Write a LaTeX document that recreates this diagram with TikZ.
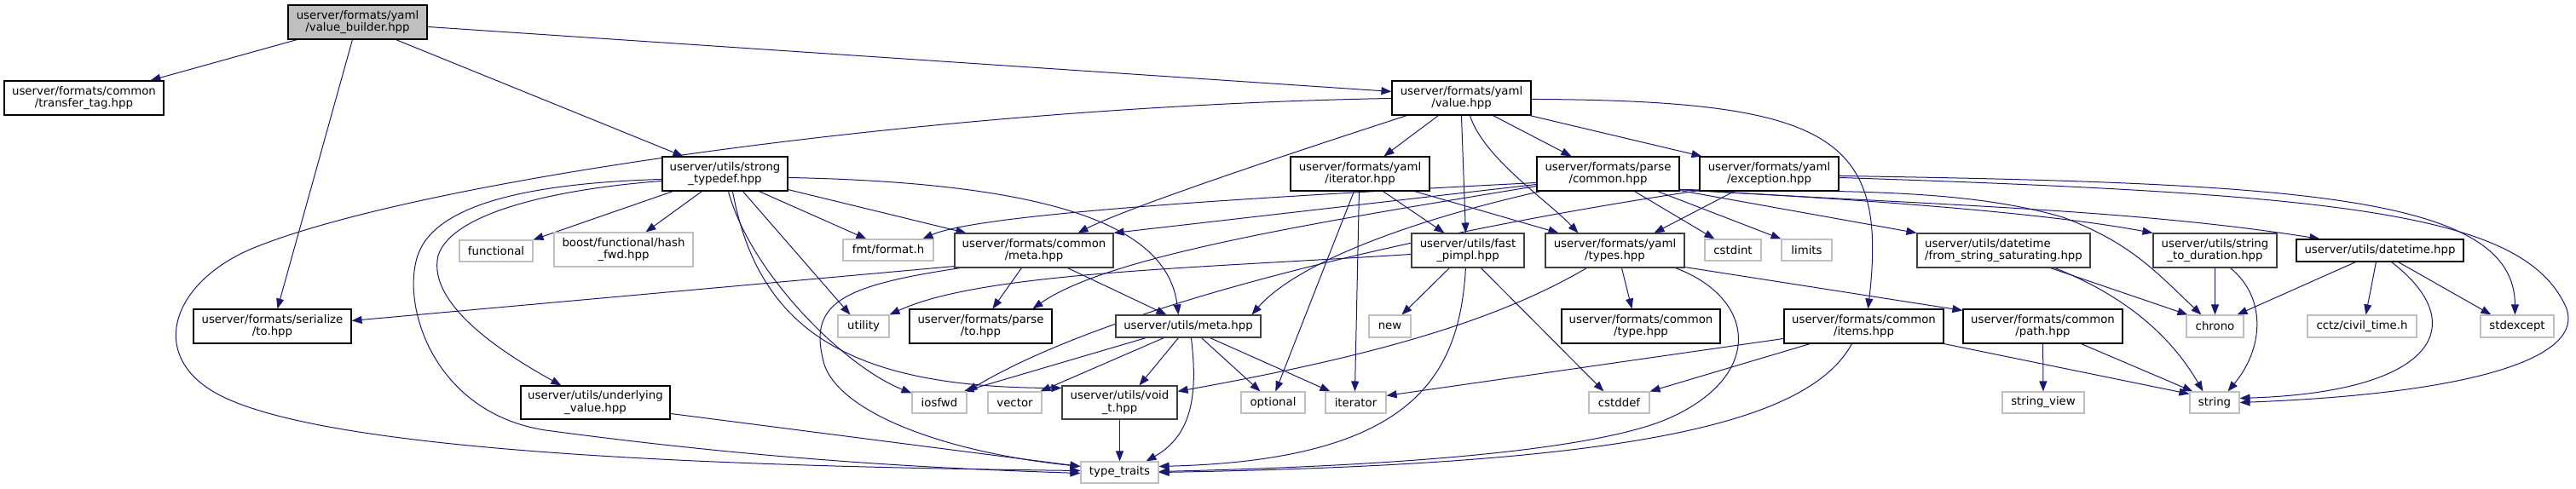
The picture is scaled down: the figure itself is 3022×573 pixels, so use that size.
\documentclass[tikz,border=0pt]{standalone}
\usepackage{fontspec}
\setmainfont{DejaVu Sans}
\usetikzlibrary{arrows.meta}
\pgfdeclarelayer{bg}
\pgfsetlayers{bg,main}
\definecolor{edgec}{HTML}{191970}
\definecolor{grayb}{HTML}{404040}
\definecolor{extb}{HTML}{BFBFBF}
\definecolor{rootf}{HTML}{BFBFBF}
\begin{document}
\begin{tikzpicture}[x=1pt,y=-1pt,
  box/.style={draw, fill=white, line width=1.1pt, inner sep=0pt, align=center, font=\fontsize{13.3}{14.5}\selectfont, text=black},
  doc/.style={box, draw=black},
  gdoc/.style={box, draw=grayb},
  ext/.style={box, draw=extb},
  root/.style={box, draw=black, fill=rootf},
  wh/.style 2 args={minimum width=#1pt, minimum height=#2pt},
  edge/.style={draw=edgec, line width=1pt, -{Triangle[length=12pt,width=9pt]}}]
\useasboundingbox (0,0) rectangle (3022,573);
% nodes
\node[root, wh={163}{40}] (vb) at (419.5,26) {userver/formats/yaml\\/value\_builder.hpp};
\node[doc, wh={187}{40}] (tt) at (98.5,115) {userver/formats/common\\/transfer\_tag.hpp};
\node[doc, wh={185}{40}] (sto) at (319.5,383) {userver/formats/serialize\\/to.hpp};
\node[doc, wh={147}{40}] (st) at (850.5,204) {userver/utils/strong\\\_typedef.hpp};
\node[doc, wh={163}{40}] (val) at (1714.5,115) {userver/formats/yaml\\/value.hpp};
\node[ext, wh={86}{25}] (func) at (582,294.5) {functional};
\node[ext, wh={163}{40}] (boost) at (731.5,293) {boost/functional/hash\\\_fwd.hpp};
\node[ext, wh={106}{25}] (fmt) at (1042,293.5) {fmt/format.h};
\node[gdoc, wh={186}{40}] (cm) at (1213,294) {userver/formats/common\\/meta.hpp};
\node[doc, wh={163}{40}] (it) at (1595.5,204) {userver/formats/yaml\\/iterator.hpp};
\node[doc, wh={167}{40}] (pc) at (1886.5,204) {userver/formats/parse\\/common.hpp};
\node[doc, wh={163}{40}] (ex) at (2075.5,204) {userver/formats/yaml\\/exception.hpp};
\node[gdoc, wh={132}{40}] (fp) at (1722,294) {userver/utils/fast\\\_pimpl.hpp};
\node[gdoc, wh={163}{40}] (ty) at (1894.5,294) {userver/formats/yaml\\/types.hpp};
\node[ext, wh={66}{25}] (cstdint) at (2033,293.5) {cstdint};
\node[ext, wh={59}{25}] (limits) at (2119.5,293.5) {limits};
\node[gdoc, wh={203}{40}, align=left] (fss) at (2350.5,294) {userver/utils/datetime\\/from\_string\_saturating.hpp};
\node[gdoc, wh={145}{40}] (s2d) at (2598.5,294) {userver/utils/string\\\_to\_duration.hpp};
\node[doc, wh={196}{26}] (dt) at (2792,294) {userver/utils/datetime.hpp};
\node[ext, wh={60}{26}] (utility) at (1013,383) {utility};
\node[doc, wh={167}{40}] (pto) at (1150.5,383) {userver/formats/parse\\/to.hpp};
\node[gdoc, wh={170}{26}] (um) at (1394,383) {userver/utils/meta.hpp};
\node[ext, wh={49}{26}] (new) at (1630.5,383) {new};
\node[doc, wh={186}{40}] (ctype) at (1925,383) {userver/formats/common\\/type.hpp};
\node[doc, wh={187}{40}] (items) at (2186.5,383) {userver/formats/common\\/items.hpp};
\node[doc, wh={187}{40}] (path) at (2396.5,383) {userver/formats/common\\/path.hpp};
\node[ext, wh={67}{26}] (chrono) at (2598.5,383) {chrono};
\node[ext, wh={128}{26}] (cctz) at (2771,383) {cctz/civil\_time.h};
\node[ext, wh={86}{26}] (stdexcept) at (2953,383) {stdexcept};
\node[doc, wh={175}{39}] (uv) at (698.5,472.5) {userver/utils/underlying\\\_value.hpp};
\node[ext, wh={64}{25}] (iosfwd) at (1102,472.5) {iosfwd};
\node[ext, wh={63}{25}] (vector) at (1190.5,472.5) {vector};
\node[gdoc, wh={135}{39}] (vt) at (1313.5,472.5) {userver/utils/void\\\_t.hpp};
\node[ext, wh={75}{25}] (optional) at (1493.5,472.5) {optional};
\node[ext, wh={71}{25}] (iterator) at (1590.5,472.5) {iterator};
\node[ext, wh={71}{25}] (cstddef) at (1899.5,472.5) {cstddef};
\node[ext, wh={96}{25}] (sv) at (2397,472.5) {string\_view};
\node[ext, wh={58}{25}] (string) at (2598,472.5) {string};
\node[ext, wh={91}{25}] (tt2) at (1313.5,554.5) {type\_traits};
% edges
\begin{pgfonlayer}{bg}
% value_builder
\draw[edge] ([xshift=11pt]vb.south west) -- ([xshift=172pt]tt.north west);
\draw[edge] ([xshift=76pt]vb.south west) -- ([xshift=99pt]sto.north west);
\draw[edge] ([xshift=127pt]vb.south west) -- ([xshift=25pt]st.north west);
\draw[edge] ([yshift=-26pt]vb.north east) -- ([yshift=-13pt]val.north west);
% value
\draw[edge] ([xshift=18pt]val.south west) .. controls (1560,165) and (1330,240) .. ([xshift=145pt]cm.north west);
\draw[edge] ([xshift=55pt]val.south west) -- ([xshift=110pt]it.north west);
\draw[edge] ([xshift=82pt]val.south west) -- ([xshift=64pt]fp.north west);
\draw[edge] ([xshift=92pt]val.south west) .. controls (1740,185) and (1815,235) .. ([xshift=39pt]ty.north west);
\draw[edge] ([xshift=119pt]val.south west) -- ([xshift=41pt]pc.north west);
\draw[edge] ([xshift=162pt]val.south west) -- ([xshift=3pt]ex.north west);
\draw[edge] ([yshift=-22pt]val.north east) .. controls (2150,118) and (2215,160) .. ([xshift=99pt]items.north west);
\draw[edge] ([yshift=-21pt]val.north west) .. controls (1100,125) and (500,210) .. (300,290) .. controls (200,330) and (170,420) .. (260,465) .. controls (400,535) and (900,548) .. ([yshift=2pt]tt2.west);
% strong_typedef
\draw[edge] ([xshift=13pt]st.south west) -- (func.north east);
\draw[edge] ([xshift=47pt]st.south west) -- ([xshift=108pt]boost.north west);
\draw[edge] ([xshift=114pt]st.south west) -- ([xshift=28pt]fmt.north west);
\draw[edge] ([yshift=2pt]st.south east) -- ([xshift=14pt]cm.north west);
\draw[edge] ([xshift=95pt]st.south west) -- ([xshift=15pt]utility.north west);
\draw[edge] ([xshift=78pt]st.south west) .. controls (880,320) and (990,430) .. ([yshift=-2pt]iosfwd.north west);
\draw[edge] ([xshift=83pt]st.south west) .. controls (890,390) and (1000,455) .. ([yshift=-3pt]vt.north west);
\draw[edge] ([yshift=-25pt]st.north east) .. controls (1250,215) and (1370,270) .. ([xshift=74pt]um.north west);
\draw[edge] ([yshift=-29pt]st.north west) .. controls (650,222) and (530,250) .. (514,300) .. controls (500,360) and (600,420) .. ([xshift=48pt]uv.north west);
\draw[edge] ([yshift=-27pt]st.north west) .. controls (620,215) and (510,240) .. (490,300) .. controls (470,360) and (510,485) .. (640,505) .. controls (900,540) and (1100,550) .. ([yshift=-1pt]tt2.west);
% common/meta
\draw[edge] ([yshift=2pt]cm.south west) -- ([yshift=-14pt]sto.north east);
\draw[edge] ([xshift=79pt]cm.south west) -- ([xshift=98pt]pto.north west);
\draw[edge] ([xshift=133pt]cm.south west) -- ([xshift=60pt]um.north west);
\draw[edge] ([xshift=7pt]cm.south west) .. controls (990,335) and (950,355) .. (965,420) .. controls (975,480) and (1100,530) .. ([yshift=7pt]tt2.west);
% iterator.hpp
\draw[edge] ([xshift=109pt]it.south west) -- ([xshift=39pt]fp.north west);
\draw[edge] ([xshift=146pt]it.south west) -- ([xshift=16pt]ty.north west);
\draw[edge] ([xshift=75pt]it.south west) -- ([xshift=41pt]optional.north west);
\draw[edge] ([xshift=81pt]it.south west) -- ([xshift=35pt]iterator.north west);
% parse/common
\draw[edge] ([yshift=-31pt]pc.north west) .. controls (1500,230) and (1150,250) .. ([xshift=94pt]fmt.north west);
\draw[edge] ([yshift=-33pt]pc.north west) -- (cm.north east);
\draw[edge] ([yshift=-35pt]pc.north west) .. controls (1550,260) and (1300,300) .. ([xshift=145pt]pto.north west);
\draw[edge] ([xshift=5pt]pc.south west) .. controls (1650,260) and (1520,310) .. ([xshift=160pt]um.north west);
\draw[edge] ([xshift=115pt]pc.south west) -- ([xshift=12pt]cstdint.north west);
\draw[edge] ([xshift=142pt]pc.south west) -- (limits.north west);
\draw[edge] ([yshift=2pt]pc.south east) .. controls (2150,225) and (2300,220) .. (2420,255) .. controls (2500,285) and (2530,320) .. ([xshift=18pt]chrono.north west);
\draw[edge] ([yshift=1pt]pc.south east) -- (fss.north west);
\draw[edge] ([yshift=2pt]pc.south east) .. controls (2200,235) and (2400,250) .. (s2d.north west);
\draw[edge] ([yshift=2pt]pc.south east) .. controls (2250,240) and (2500,245) .. ([xshift=28pt]dt.north west);
% exception
\draw[edge] ([xshift=41pt]ex.south west) -- ([xshift=128pt]ty.north west);
\draw[edge] ([yshift=1pt]ex.south west) .. controls (1650,275) and (1300,360) .. (iosfwd.north east);
\draw[edge] ([yshift=-23pt]ex.north east) .. controls (2700,215) and (2950,230) .. ([xshift=41pt]stdexcept.north west);
\draw[edge] ([yshift=-25pt]ex.north east) .. controls (2750,228) and (2960,250) .. (3010,360) .. controls (3035,420) and (2900,462) .. (string.east);
% fast_pimpl
\draw[edge] ([yshift=-25pt]fp.north west) .. controls (1400,315) and (1150,320) .. (utility.north east);
\draw[edge] ([xshift=45pt]fp.south west) -- ([xshift=39pt]new.north west);
\draw[edge] ([xshift=82pt]fp.south west) -- ([xshift=18pt]cstddef.north west);
\draw[edge] ([xshift=64pt]fp.south west) .. controls (1712,440) and (1660,540) .. ([yshift=-6pt]tt2.north east);
% types
\draw[edge] ([xshift=90pt]ty.south west) -- ([xshift=83pt]ctype.north west);
\draw[edge] ([yshift=1pt]ty.south east) -- ([yshift=-2pt]path.north west);
\draw[edge] ([xshift=49pt]ty.south west) .. controls (1750,380) and (1600,420) .. ([yshift=-7pt]vt.north east);
\draw[edge] ([xshift=153pt]ty.south west) .. controls (2060,350) and (2070,440) .. (1960,490) .. controls (1850,540) and (1500,550) .. ([yshift=1pt]tt2.east);
% utils/meta
\draw[edge] ([xshift=36pt]um.south west) -- ([xshift=-4pt]iosfwd.north east);
\draw[edge] ([xshift=57pt]um.south west) -- ([xshift=62pt]vector.north west);
\draw[edge] ([xshift=74pt]um.south west) -- ([xshift=91pt]vt.north west);
\draw[edge] ([xshift=89pt]um.south west) .. controls (1405,460) and (1400,510) .. ([xshift=77pt]tt2.north west);
\draw[edge] ([xshift=101pt]um.south west) -- ([xshift=23pt]optional.north west);
\draw[edge] ([xshift=111pt]um.south west) -- ([xshift=6pt]iterator.north west);
% void_t, underlying
\draw[edge] (vt) -- (tt2);
\draw[edge] ([yshift=-33pt]uv.north east) -- ([yshift=7pt]tt2.west);
% items
\draw[edge] ([yshift=-35pt]items.north west) -- ([yshift=-5pt]iterator.north east);
\draw[edge] ([xshift=31pt]items.south west) -- (cstddef.north east);
\draw[edge] ([xshift=80pt]items.south west) .. controls (2120,500) and (1900,545) .. (tt2.east);
\draw[edge] (items.south east) -- ([yshift=-3pt]string.north west);
% path
\draw[edge] (path) -- (sv);
\draw[edge] ([xshift=139pt]path.south west) -- ([xshift=4pt]string.north west);
% from_string_saturating
\draw[edge] ([xshift=157pt]fss.south west) -- ([xshift=2pt]chrono.north west);
\draw[edge] ([xshift=162pt]fss.south west) .. controls (2500,350) and (2550,400) .. ([xshift=16pt]string.north west);
% string_to_duration
\draw[edge] (s2d) -- (chrono);
\draw[edge] ([xshift=91pt]s2d.south west) .. controls (2660,350) and (2655,410) .. ([xshift=45pt]string.north west);
% datetime
\draw[edge] ([xshift=70pt]dt.south west) -- ([xshift=60pt]chrono.north west);
\draw[edge] ([xshift=94pt]dt.south west) -- ([xshift=69pt]cctz.north west);
\draw[edge] ([xshift=120pt]dt.south west) -- ([xshift=13pt]stdexcept.north west);
\draw[edge] ([xshift=112pt]dt.south west) .. controls (2900,380) and (2860,460) .. ([yshift=-8pt]string.north east);
\end{pgfonlayer}
\end{tikzpicture}
\end{document}
